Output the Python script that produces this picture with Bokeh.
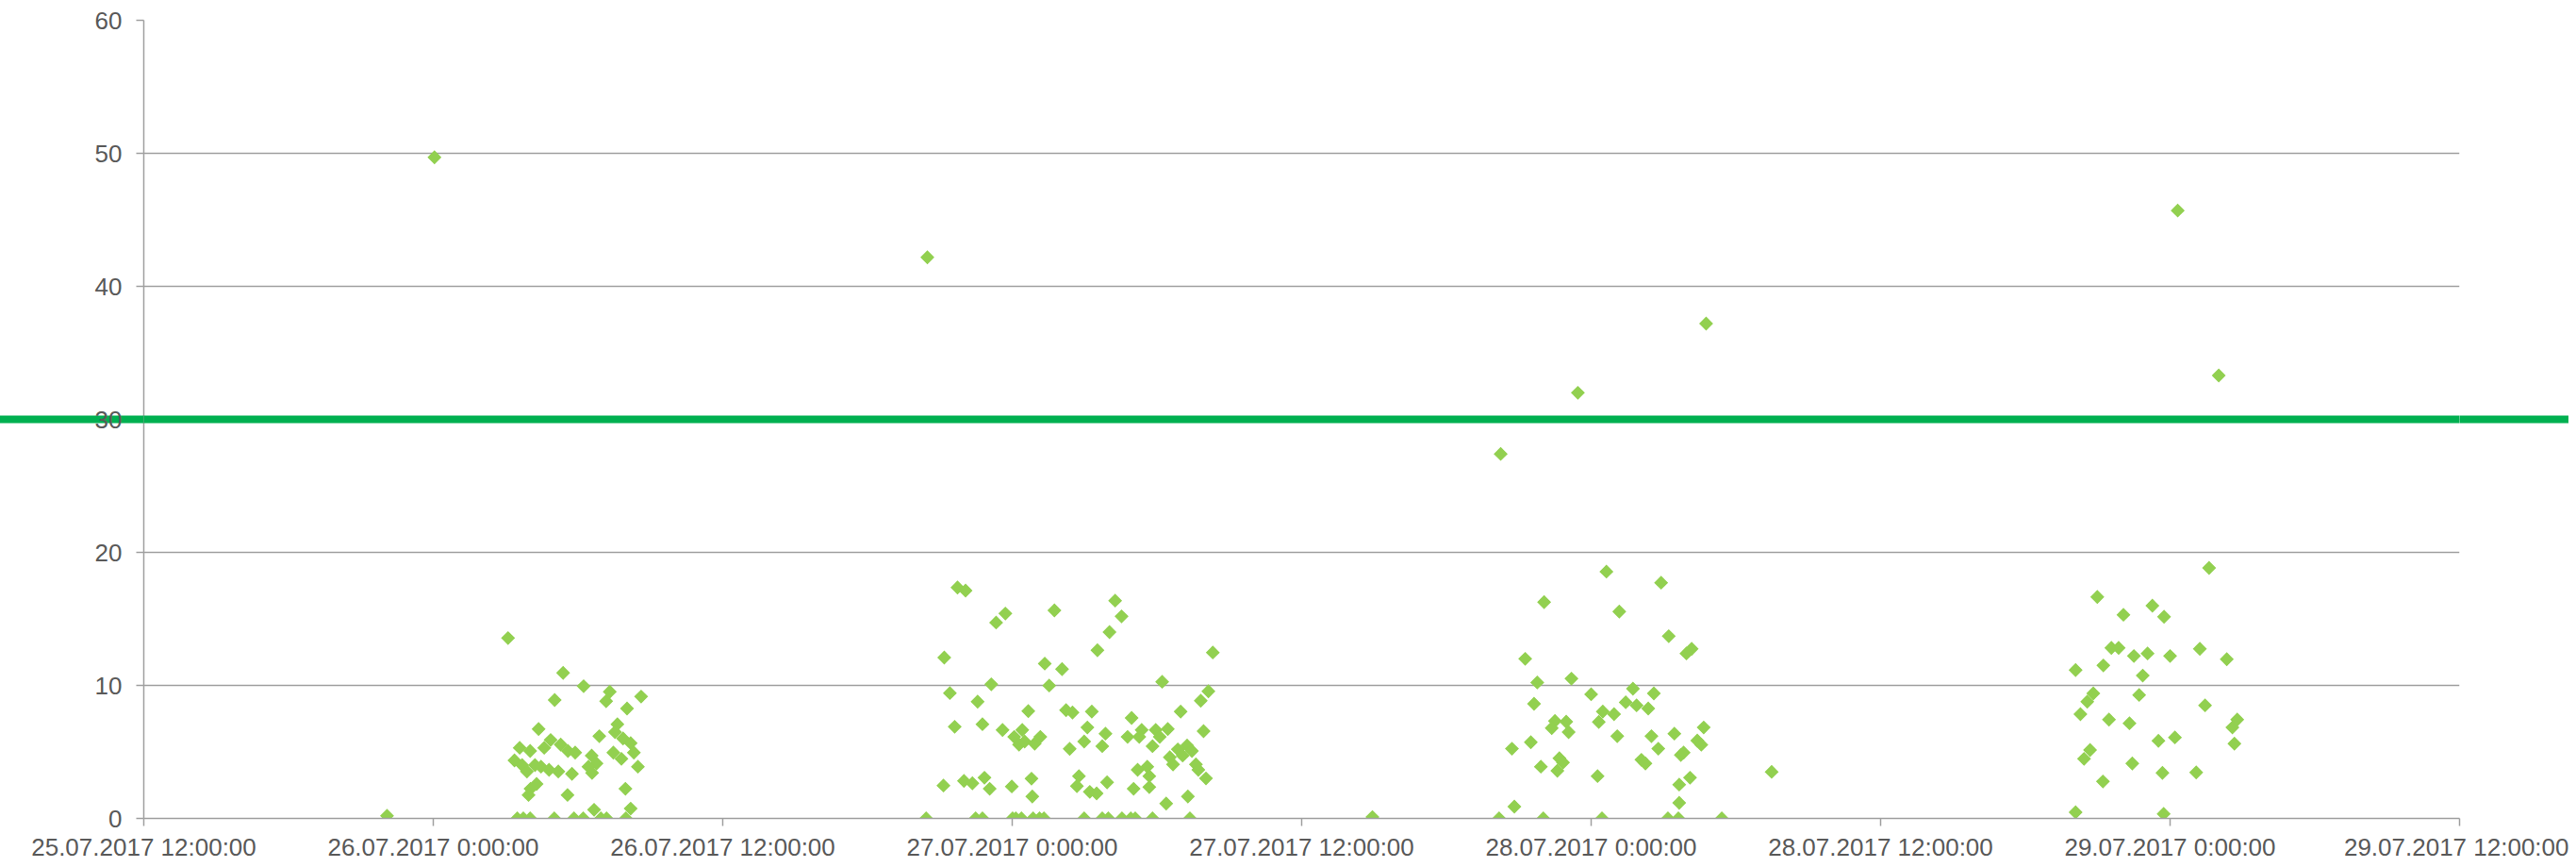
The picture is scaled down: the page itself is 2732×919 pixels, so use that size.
import numpy as np
import pandas as pd
from bokeh.plotting import figure
from bokeh.models import Range1d, FixedTicker, Span, LinearAxis, ColumnDataSource
from bokeh.embed import file_html
from bokeh.resources import INLINE

# ---------------- data ----------------
jul26_times = [
    "2017-07-25 22:05", "2017-07-26 00:03", "2017-07-26 03:06", "2017-07-26 05:23", "2017-07-26 06:14",
    "2017-07-26 05:02", "2017-07-26 07:19", "2017-07-26 07:10", "2017-07-26 08:37", "2017-07-26 08:02",
    "2017-07-26 04:22", "2017-07-26 06:53", "2017-07-26 07:38", "2017-07-26 07:32", "2017-07-26 07:52",
    "2017-07-26 08:11", "2017-07-26 08:19", "2017-07-26 08:29", "2017-07-26 03:35", "2017-07-26 04:01",
    "2017-07-26 03:22", "2017-07-26 03:41", "2017-07-26 03:53", "2017-07-26 04:52", "2017-07-26 04:36",
    "2017-07-26 05:17", "2017-07-26 05:35", "2017-07-26 05:53", "2017-07-26 04:13", "2017-07-26 04:28",
    "2017-07-26 04:48", "2017-07-26 05:11", "2017-07-26 05:45", "2017-07-26 06:34", "2017-07-26 06:46",
    "2017-07-26 06:26", "2017-07-26 06:35", "2017-07-26 07:28", "2017-07-26 07:48", "2017-07-26 04:17",
    "2017-07-26 04:02", "2017-07-26 03:57", "2017-07-26 05:34", "2017-07-26 07:58", "2017-07-26 06:40",
    "2017-07-26 08:11", "2017-07-26 03:29", "2017-07-26 03:44", "2017-07-26 04:01", "2017-07-26 05:01",
    "2017-07-26 05:50", "2017-07-26 06:13", "2017-07-26 06:57", "2017-07-26 07:11", "2017-07-26 07:59",
]
jul26_values = [
    0.2, 49.7, 13.56, 10.94, 9.94,
    8.90, 9.52, 8.81, 9.16, 8.26,
    6.72, 6.18, 7.08, 6.49, 6.01,
    5.66, 4.95, 3.89, 5.31, 5.07,
    4.36, 4.01, 3.53, 5.90, 5.31,
    5.55, 5.07, 4.95, 4.01, 3.89,
    3.65, 3.53, 3.35, 4.72, 4.13,
    3.89, 3.42, 4.95, 4.48, 2.59,
    2.23, 1.76, 1.76, 2.23, 0.65,
    0.74, 0.0, 0.0, 0.0, 0.0,
    0.0, 0.0, 0.0, 0.0, 0.0,
]

jul27_times = [
    "2017-07-26 20:29", "2017-07-26 21:44", "2017-07-26 22:04", "2017-07-26 23:43", "2017-07-26 23:20",
    "2017-07-27 01:45", "2017-07-26 21:11", "2017-07-27 01:21", "2017-07-27 02:04", "2017-07-26 23:08",
    "2017-07-27 01:32", "2017-07-26 21:25", "2017-07-26 22:34", "2017-07-27 00:40", "2017-07-27 02:14",
    "2017-07-27 02:30", "2017-07-26 21:37", "2017-07-26 22:46", "2017-07-26 23:36", "2017-07-27 00:05",
    "2017-07-27 00:25", "2017-07-27 00:17", "2017-07-27 00:31", "2017-07-27 00:56", "2017-07-27 01:10",
    "2017-07-27 02:23", "2017-07-26 21:09", "2017-07-26 22:00", "2017-07-26 22:21", "2017-07-26 22:51",
    "2017-07-26 23:04", "2017-07-26 23:59", "2017-07-27 00:48", "2017-07-27 00:50", "2017-07-27 02:46",
    "2017-07-27 02:41", "2017-07-26 20:26", "2017-07-26 22:29", "2017-07-26 22:46", "2017-07-27 00:01",
    "2017-07-27 00:09", "2017-07-27 00:23", "2017-07-27 00:52", "2017-07-27 01:08", "2017-07-27 01:19",
    "2017-07-27 04:16", "2017-07-27 04:32", "2017-07-27 04:02", "2017-07-27 03:32", "2017-07-27 08:19",
    "2017-07-27 06:13", "2017-07-27 08:08", "2017-07-27 07:49", "2017-07-27 06:59", "2017-07-27 03:18",
    "2017-07-27 03:07", "2017-07-27 02:59", "2017-07-27 03:52", "2017-07-27 03:44", "2017-07-27 04:57",
    "2017-07-27 04:47", "2017-07-27 05:22", "2017-07-27 05:16", "2017-07-27 05:57", "2017-07-27 06:07",
    "2017-07-27 05:49", "2017-07-27 06:27", "2017-07-27 07:56", "2017-07-27 06:52", "2017-07-27 07:15",
    "2017-07-27 07:27", "2017-07-27 07:04", "2017-07-27 06:32", "2017-07-27 06:40", "2017-07-27 07:37",
    "2017-07-27 07:43", "2017-07-27 08:02", "2017-07-27 05:12", "2017-07-27 05:36", "2017-07-27 05:41",
    "2017-07-27 05:02", "2017-07-27 05:41", "2017-07-27 03:56", "2017-07-27 03:13", "2017-07-27 03:30",
    "2017-07-27 06:23", "2017-07-27 07:17", "2017-07-27 02:59", "2017-07-27 03:44", "2017-07-27 03:59",
    "2017-07-27 04:33", "2017-07-27 04:55", "2017-07-27 05:06", "2017-07-27 05:49", "2017-07-27 07:22",
    "2017-07-27 14:56",
]
jul27_values = [
    42.18, 17.36, 17.13, 15.40, 14.72,
    15.64, 12.09, 11.64, 11.22, 10.08,
    9.99, 9.42, 8.78, 8.07, 8.14,
    7.96, 6.89, 7.08, 6.65, 6.13,
    6.65, 5.55, 5.78, 5.62, 6.13,
    5.23, 2.47, 2.82, 2.64, 3.06,
    2.23, 2.40, 2.99, 1.65, 3.18,
    2.43, 0.0, 0.0, 0.0, 0.0,
    0.0, 0.0, 0.0, 0.0, 0.0,
    16.37, 15.19, 14.01, 12.64, 12.47,
    10.27, 9.56, 8.85, 8.03, 8.03,
    6.84, 5.78, 6.37, 5.43, 7.55,
    6.13, 6.65, 6.13, 6.65, 6.13,
    5.43, 6.72, 6.56, 5.19, 5.48,
    5.07, 4.72, 4.60, 4.06, 4.06,
    3.65, 3.01, 3.65, 3.89, 3.18,
    2.23, 2.35, 2.71, 2.00, 1.88,
    1.12, 1.65, 0.0, 0.0, 0.0,
    0.0, 0.0, 0.0, 0.0, 0.0,
    0.1,
]

jul28_times = [
    "2017-07-27 20:15", "2017-07-27 23:27", "2017-07-28 04:46", "2017-07-28 00:38", "2017-07-28 02:54",
    "2017-07-27 22:03", "2017-07-28 01:10", "2017-07-28 03:13", "2017-07-28 04:10", "2017-07-28 03:57",
    "2017-07-27 21:16", "2017-07-27 21:46", "2017-07-27 23:11", "2017-07-28 00:00", "2017-07-28 01:44",
    "2017-07-28 02:36", "2017-07-27 21:38", "2017-07-28 01:26", "2017-07-28 01:53", "2017-07-28 02:22",
    "2017-07-28 00:29", "2017-07-28 00:57", "2017-07-28 00:19", "2017-07-27 22:30", "2017-07-27 22:58",
    "2017-07-27 22:22", "2017-07-27 23:04", "2017-07-28 01:05", "2017-07-28 02:30", "2017-07-28 03:27",
    "2017-07-28 04:40", "2017-07-28 04:24", "2017-07-28 04:34", "2017-07-27 21:30", "2017-07-27 20:43",
    "2017-07-28 02:47", "2017-07-28 03:43", "2017-07-28 03:50", "2017-07-27 22:41", "2017-07-27 22:50",
    "2017-07-27 22:36", "2017-07-27 21:55", "2017-07-28 02:05", "2017-07-28 02:15", "2017-07-28 00:16",
    "2017-07-28 03:39", "2017-07-28 04:06", "2017-07-28 03:39", "2017-07-27 20:49", "2017-07-28 07:29",
    "2017-07-27 20:11", "2017-07-27 22:01", "2017-07-28 00:27", "2017-07-28 03:11", "2017-07-28 03:37",
    "2017-07-28 05:25",
]
jul28_values = [
    27.4, 32.0, 37.2, 18.55, 17.72,
    16.26, 15.55, 13.70, 12.75, 12.40,
    12.00, 10.22, 10.51, 9.33, 9.75,
    9.40, 8.62, 8.73, 8.50, 8.26,
    8.03, 7.84, 7.25, 7.32, 7.27,
    6.79, 6.49, 6.18, 6.18, 6.37,
    6.84, 5.85, 5.54, 5.73, 5.24,
    5.24, 4.77, 4.95, 4.53, 4.20,
    3.58, 3.89, 4.41, 4.13, 3.18,
    2.54, 3.06, 1.17, 0.89, 3.50,
    0.0, 0.0, 0.0, 0.0, 0.0,
    0.0,
]

jul29_times = [
    "2017-07-29 00:19", "2017-07-29 02:01", "2017-07-29 01:37", "2017-07-28 20:59", "2017-07-28 22:04",
    "2017-07-28 23:16", "2017-07-28 23:45", "2017-07-28 21:34", "2017-07-28 21:52", "2017-07-28 22:30",
    "2017-07-28 23:04", "2017-07-29 00:00", "2017-07-29 01:14", "2017-07-29 02:21", "2017-07-28 20:05",
    "2017-07-28 21:14", "2017-07-28 22:52", "2017-07-28 20:49", "2017-07-28 20:34", "2017-07-28 22:43",
    "2017-07-28 20:17", "2017-07-28 21:28", "2017-07-28 22:19", "2017-07-29 01:27", "2017-07-29 02:47",
    "2017-07-29 02:35", "2017-07-29 02:40", "2017-07-28 23:31", "2017-07-29 00:12", "2017-07-28 20:41",
    "2017-07-28 20:26", "2017-07-28 22:26", "2017-07-28 23:41", "2017-07-29 01:05", "2017-07-28 21:13",
    "2017-07-28 20:05", "2017-07-28 23:44",
]
jul29_values = [
    45.7, 33.3, 18.83, 16.65, 15.31,
    15.99, 15.16, 12.82, 12.82, 12.21,
    12.40, 12.21, 12.75, 11.97, 11.15,
    11.50, 10.74, 9.40, 8.78, 9.28,
    7.84, 7.43, 7.15, 8.50, 7.43,
    6.84, 5.62, 5.83, 6.09, 5.14,
    4.48, 4.13, 3.42, 3.46, 2.78,
    0.46, 0.34,
]

tick_times = [
    "2017-07-25 12:00", "2017-07-26 00:00", "2017-07-26 12:00", "2017-07-27 00:00", "2017-07-27 12:00",
    "2017-07-28 00:00", "2017-07-28 12:00", "2017-07-29 00:00", "2017-07-29 12:00",
]
tick_labels = [
    "25.07.2017 12:00:00", "26.07.2017 0:00:00", "26.07.2017 12:00:00", "27.07.2017 0:00:00",
    "27.07.2017 12:00:00", "28.07.2017 0:00:00", "28.07.2017 12:00:00", "29.07.2017 0:00:00",
    "29.07.2017 12:00:00",
]
y_ticks = [0, 10, 20, 30, 40, 50, 60]
limit_value = 30


def ms(s):
    return pd.Timestamp(s).value / 1e6


all_times = jul26_times + jul27_times + jul28_times + jul29_times
all_values = jul26_values + jul27_values + jul28_values + jul29_values
src = ColumnDataSource(dict(x=[ms(t) for t in all_times], y=all_values))

FONT = "Liberation Sans"
GRAY_TXT = "#595959"
GRID = "#a0a0a0"
LIMIT_GREEN = "#00B050"

LEFT = 152
RIGHT = 116
TICK_OUT = 8
LABEL_GAP = 15
LIMIT_EXT_LEFT = 156
LIMIT_EXT_RIGHT = RIGHT

p = figure(
    width=2724, height=917,
    x_axis_type="datetime",
    x_range=Range1d(ms(tick_times[0]), ms(tick_times[-1])),
    y_range=Range1d(y_ticks[0], y_ticks[-1]),
    output_backend="svg", toolbar_location=None,
    min_border_left=LEFT, min_border_right=RIGHT, min_border_top=21, min_border_bottom=50,
)
p.outline_line_color = None
p.background_fill_color = "white"
p.xgrid.visible = False
p.ygrid.grid_line_color = GRID
p.ygrid.grid_line_width = 1.5
p.ygrid.ticker = FixedTicker(ticks=y_ticks)

# left axis: major ticks = value ticks; one minor tick continues the limit line to the page edge
p.yaxis.ticker = FixedTicker(ticks=y_ticks, minor_ticks=[limit_value])
p.xaxis.ticker = FixedTicker(ticks=[ms(t) for t in tick_times])
p.xaxis.major_label_overrides = {ms(t): lab for t, lab in zip(tick_times, tick_labels)}

for ax in (p.xaxis[0], p.yaxis[0]):
    ax.axis_line_color = GRID
    ax.axis_line_width = 1.5
    ax.major_tick_line_color = GRID
    ax.major_tick_line_width = 1.5
    ax.major_tick_out = TICK_OUT
    ax.major_tick_in = 0
    ax.minor_tick_line_color = None
    ax.major_label_text_font = FONT
    ax.major_label_text_font_size = "26px"
    ax.major_label_text_color = GRAY_TXT
p.xaxis.major_label_standoff = 7

yax = p.yaxis[0]
yax.minor_tick_line_color = LIMIT_GREEN
yax.minor_tick_line_width = 8
yax.minor_tick_in = 0
yax.minor_tick_out = LIMIT_EXT_LEFT
# labels are offset from the longest tick; pull them back next to the short major ticks
yax.major_label_standoff = LABEL_GAP - (LIMIT_EXT_LEFT - TICK_OUT)

# right side continuation of the limit line
right_ax = LinearAxis(ticker=FixedTicker(ticks=[], minor_ticks=[limit_value]))
right_ax.axis_line_color = None
right_ax.major_tick_line_color = None
right_ax.major_tick_out = 0
right_ax.major_label_standoff = 0
right_ax.minor_tick_line_color = LIMIT_GREEN
right_ax.minor_tick_line_width = 8
right_ax.minor_tick_in = 0
right_ax.minor_tick_out = LIMIT_EXT_RIGHT
p.add_layout(right_ax, "right")

p.scatter("x", "y", source=src, marker="square", angle=np.pi / 4, size=10.5,
          fill_color="#92D050", line_color=None)

limit = Span(location=limit_value, dimension="width", line_color=LIMIT_GREEN,
             line_width=8, level="overlay")
p.add_layout(limit)

open("out.html", "w").write(file_html(p, INLINE))
